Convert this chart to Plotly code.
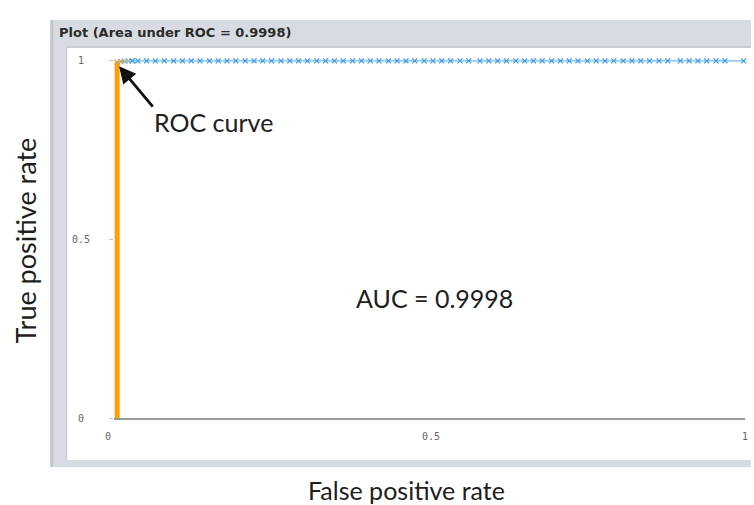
import plotly.graph_objects as go

# ROC curve of the classifier: false positive rate vs true positive rate
# Vertical run at FPR = 0 (high-threshold points)
fpr_rise = [0.0, 0.0]
tpr_rise = [0.0, 0.996]

# Transitional points near the top-left corner
fpr_corner = [0.0, 0.006, 0.012, 0.018, 0.024]
tpr_corner = [0.996, 0.998, 0.999, 1.0, 1.0]
corner_colors = ["#f29a2e", "#b9a77a", "#9fb0a0", "#8fb3b8", "#7fb3cc"]

# Remaining points along TPR = 1
fpr_top = [0.033, 0.047, 0.061, 0.075, 0.090, 0.104, 0.118, 0.132, 0.147, 0.161,
           0.175, 0.189, 0.204, 0.218, 0.232, 0.246, 0.261, 0.275, 0.289, 0.303,
           0.318, 0.332, 0.346, 0.360, 0.375, 0.389, 0.403, 0.417, 0.432, 0.446,
           0.460, 0.474, 0.489, 0.503, 0.517, 0.531, 0.546, 0.560, 0.578, 0.592,
           0.606, 0.620, 0.635, 0.649, 0.663, 0.677, 0.692, 0.706, 0.720, 0.734,
           0.749, 0.763, 0.777, 0.791, 0.806, 0.820, 0.834, 0.848, 0.863, 0.877,
           0.897, 0.911, 0.925, 0.939, 0.954, 0.968, 0.998]
tpr_top = [1.0] * len(fpr_top)

auc_value = 0.9998
tick_vals = [0, 0.5, 1]
x_tick_text = ["0\u00a0\u00a0\u00a0", "0.5", "1"]
y_tick_text = ["0\u00a0", "0.5", "1\u00a0"]

# small padding on the ranges so the thick vertical line is not clipped
x_range = [-0.005, 1.0]
y_range = [0.0, 1.008]

W, H = 754, 505
L, R, T, B = 114, 6, 58, 87
PW, PH = W - L - R, H - T - B


def px(x):
    return (x - L) / PW


def py(y):
    return (H - B - y) / PH


fig = go.Figure()

fig.add_trace(go.Scatter(
    x=fpr_rise, y=tpr_rise, mode="lines",
    line=dict(color="#ff9d0a", width=5),
    cliponaxis=False, showlegend=False, hoverinfo="skip",
))
fig.add_trace(go.Scatter(
    x=fpr_corner, y=tpr_corner, mode="lines+markers",
    line=dict(color="#a9b8b0", width=1),
    marker=dict(symbol="x-thin", size=5, color=corner_colors,
                line=dict(width=1.3, color=corner_colors)),
    cliponaxis=False, showlegend=False,
))
fig.add_trace(go.Scatter(
    x=[fpr_corner[-1]] + fpr_top, y=[tpr_corner[-1]] + tpr_top, mode="lines+markers",
    line=dict(color="#6db8ee", width=1.2),
    marker=dict(symbol="x-thin", size=5, color="#3d9de6",
                line=dict(width=1.3, color="#3d9de6")),
    cliponaxis=False, showlegend=False,
))

shapes = [
    # panel frame
    dict(type="rect", xref="paper", yref="paper", layer="below",
         x0=px(50), x1=px(754), y0=py(467), y1=py(20),
         fillcolor="#d8dbe1", line=dict(width=0)),
    dict(type="rect", xref="paper", yref="paper", layer="below",
         x0=px(50), x1=px(53), y0=py(467), y1=py(20),
         fillcolor="#c3c6cc", line=dict(width=0)),
    dict(type="rect", xref="paper", yref="paper", layer="below",
         x0=px(66), x1=px(754), y0=py(460), y1=py(46),
         fillcolor="#c9ccd2", line=dict(width=0)),
    dict(type="rect", xref="paper", yref="paper", layer="below",
         x0=px(67), x1=px(754), y0=py(460), y1=py(48),
         fillcolor="#ffffff", line=dict(width=0)),
]

annotations = [
    dict(text="<b>Plot (Area under ROC = 0.9998)</b>", xref="paper", yref="paper",
         x=px(57), y=py(32), xanchor="left", yanchor="middle", showarrow=False,
         font=dict(family="DejaVu Sans", size=13, color="#2b2b2b")),
    dict(text="True positive rate", xref="paper", yref="paper",
         x=px(25), y=py(240), textangle=-90, showarrow=False,
         xanchor="center", yanchor="middle",
         font=dict(family="Lato", size=27, color="#1e1e1e")),
    dict(text="False positive rate", xref="paper", yref="paper",
         x=px(408), y=py(490), showarrow=False,
         xanchor="center", yanchor="middle",
         font=dict(family="Lato", size=25, color="#1e1e1e")),
    dict(text=f"AUC = {auc_value}", xref="paper", yref="paper",
         x=px(436), y=py(298), showarrow=False,
         xanchor="center", yanchor="middle",
         font=dict(family="Lato", size=25, color="#1e1e1e")),
    dict(text="ROC curve", xref="paper", yref="paper",
         x=px(152), y=py(122), showarrow=False,
         xanchor="left", yanchor="middle",
         font=dict(family="Lato", size=25, color="#1e1e1e")),
    dict(text="", x=0.003, y=0.985, xref="x", yref="y",
         showarrow=True, ax=35, ay=42, arrowhead=2, arrowsize=1.2,
         arrowwidth=2.8, arrowcolor="#111111", standoff=0),
]

fig.update_layout(
    width=W, height=H,
    margin=dict(l=L, r=R, t=T, b=B),
    paper_bgcolor="#ffffff",
    plot_bgcolor="rgba(0,0,0,0)",
    shapes=shapes,
    annotations=annotations,
    xaxis=dict(range=x_range, tickvals=tick_vals, ticktext=x_tick_text,
               showgrid=False, zeroline=False, showline=True,
               linecolor="#9a9a9a", linewidth=2, ticks="",
               ticklabelstandoff=8,
               tickfont=dict(family="DejaVu Sans Mono", size=10, color="#666666")),
    yaxis=dict(range=y_range, tickvals=tick_vals, ticktext=y_tick_text,
               showgrid=False, zeroline=False, showline=False,
               ticks="outside", ticklen=4, tickcolor="#c0c0c0",
               ticklabelstandoff=17,
               tickfont=dict(family="DejaVu Sans Mono", size=10, color="#666666")),
)

fig.write_html("out.html")
